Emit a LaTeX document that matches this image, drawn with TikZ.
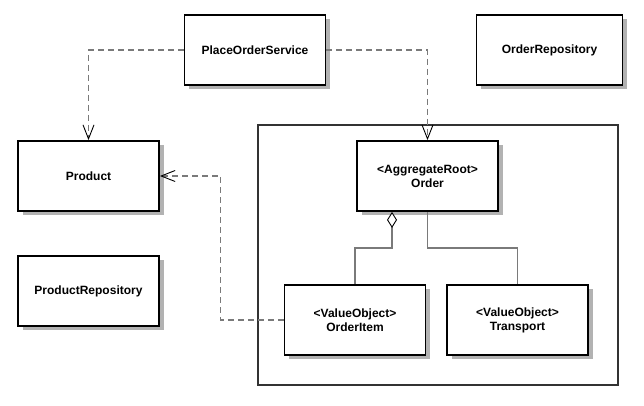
\documentclass[tikz,border=0pt]{standalone}
\usepackage{fontspec}
\setmainfont{Liberation Sans}
\usetikzlibrary{arrows.meta}
\usetikzlibrary{shadows}
\definecolor{linegray}{HTML}{7A7A7A}
\definecolor{pkgborder}{HTML}{333333}
\tikzset{
  cls/.style={draw=black,line width=1.8pt,fill=white,minimum width=141pt,
    minimum height=70pt,align=center,inner sep=0pt,
    font=\fontsize{12}{14}\selectfont\bfseries,
    drop shadow={shadow xshift=4.5pt,shadow yshift=-4.5pt,fill=black,opacity=0.3}},
  dep/.style={draw=linegray,line width=1.5pt,dash pattern=on 6pt off 4pt,
    -{Straight Barb[length=14pt,width=11pt,line width=0.9pt,color=black]}},
  link/.style={draw=linegray,line width=1.5pt}
}

\begin{document}
\begin{tikzpicture}[x=1pt,y=1pt]
    \useasboundingbox[fill=white] (0,0) rectangle (644,406);
    % the aggregate
    \node[draw=pkgborder,line width=2pt,minimum width=360pt,minimum height=260pt,inner sep=0pt] (pkg) at (437.5,150.5) {};
    \node[cls] (service) at (255,356) {PlaceOrderService};
    \node[cls,minimum width=146pt] (orderrepo) at (549.5,356) {OrderRepository};
    \node[cls] (product) at (88.5,230) {Product};
    \node[cls] (productrepo) at (88.5,115) {ProductRepository};
    \node[cls] (order) at (427.5,230) {<AggregateRoot>\\Order};
    \node[cls] (orderitem) at (355,86) {<ValueObject>\\OrderItem};
    \node[cls] (transport) at (517.5,86) {<ValueObject>\\Transport};
    % dependencies
    \draw[dep] (service.west) -| (product.north);
    \draw[dep] (service.east) -| (order.north);
    \draw[dep] (orderitem.west) -- ++(-63,0) |- (product.east);
    % composition
    \draw[link,{Diamond[open,length=16pt,width=10pt,line width=0.9pt,color=black,fill=white]}-]
        ([xshift=-35.5pt]order.south) -- ++(0,-36) -| (orderitem.north);
    \draw[link] (order.south) -- ++(0,-36) -| (transport.north);
\end{tikzpicture}
\end{document}
